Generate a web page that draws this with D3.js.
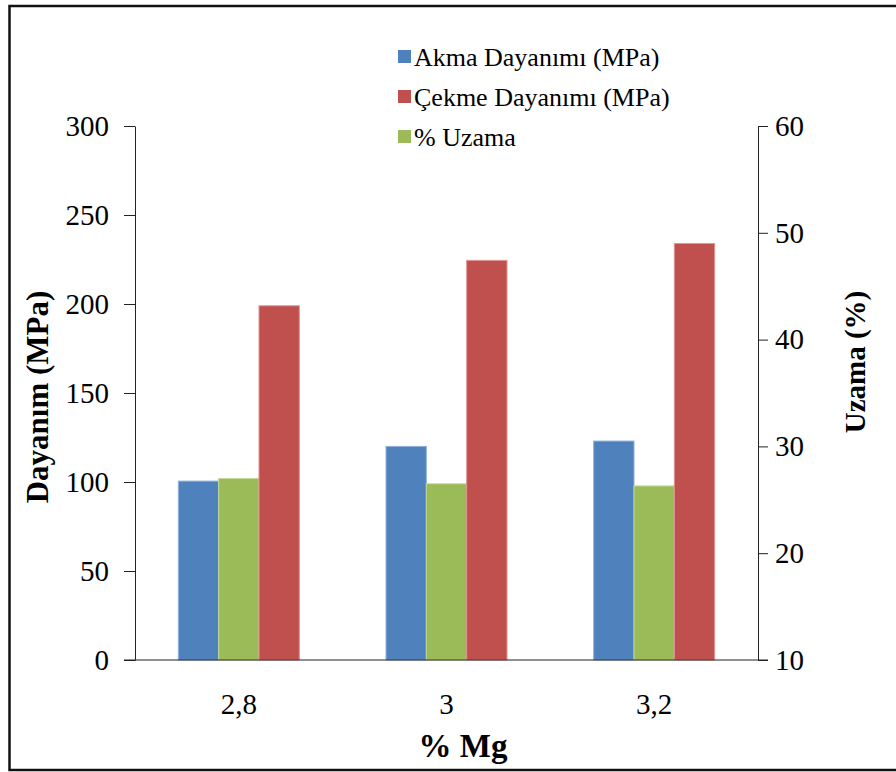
<!DOCTYPE html>
<html>
<head>
<meta charset="utf-8">
<script src="https://cdn.jsdelivr.net/npm/d3@7"></script>
<style>
  html, body { margin: 0; padding: 0; background: #fff; }
  svg { display: block; }
  svg text { font-family: "Liberation Serif", Tinos, "Times New Roman", "DejaVu Serif", serif !important; fill: #000; }
</style>
</head>
<body>
<svg id="chart" width="896" height="772"></svg>
<script>
// Magnesium content categories
const categories = ["2,8", "3", "3,2"];

// Strength values (MPa), left axis
const akmaValues = [100.5, 120, 123];
const cekmeValues = [199, 224.5, 234];

// Elongation values (%), right axis
const uzamaValues = [27.0, 26.5, 26.3];

// Axis tick values
const leftTicks = [0, 50, 100, 150, 200, 250, 300];
const rightTicks = [10, 20, 30, 40, 50, 60];

// Series drawn in each group, left to right
const barSeries = [
  { key: "akma", values: akmaValues, axis: "left", color: "#4F81BD", edge: "#8FB0DA" },
  { key: "uzama", values: uzamaValues, axis: "right", color: "#9BBB59", edge: "#C3D89A" },
  { key: "cekme", values: cekmeValues, axis: "left", color: "#C0504D", edge: "#DD9492" }
];

// Legend entries
const legendLabels = ["Akma Dayanımı (MPa)", "Çekme Dayanımı (MPa)", "% Uzama"];
const legendColors = ["#4F81BD", "#C0504D", "#9BBB59"];

const svg = d3.select("#chart");

// Outer frame
svg.append("rect")
  .attr("x", 9.5).attr("y", 6).attr("width", 900).attr("height", 764)
  .attr("fill", "none").attr("stroke", "#111").attr("stroke-width", 2.5);

const plot = { left: 135, right: 758, top: 126, bottom: 660 };

const x0 = d3.scaleBand().domain(categories).range([plot.left, plot.right]).padding(0);
const groupWidth = 121;
const x1 = d3.scaleBand().domain(barSeries.map(s => s.key)).range([0, groupWidth]).padding(0);
const groupOffset = (x0.bandwidth() - groupWidth) / 2;

const yLeft = d3.scaleLinear().domain([0, 300]).range([plot.bottom, plot.top]);
const yRight = d3.scaleLinear().domain([10, 60]).range([plot.bottom, plot.top]);

// Bars
barSeries.forEach(s => {
  const y = s.axis === "left" ? yLeft : yRight;
  const base = y.domain()[0];
  svg.append("g").selectAll("rect")
    .data(s.values)
    .join("rect")
    .attr("x", (d, i) => x0(categories[i]) + groupOffset + x1(s.key))
    .attr("y", d => y(d))
    .attr("width", x1.bandwidth())
    .attr("height", d => y(base) - y(d))
    .attr("fill", s.color)
    .attr("stroke", s.edge)
    .attr("stroke-width", 1);
});

function styleTicks(g) {
  g.attr("font-family", null);
  g.selectAll(".tick text").style("font-size", "29px").attr("fill", "#111");
  g.select(".domain").attr("stroke", "#222");
  g.selectAll(".tick line").attr("stroke", "#222");
}

// Left axis
svg.append("g")
  .attr("transform", `translate(${plot.left},0)`)
  .call(d3.axisLeft(yLeft).tickValues(leftTicks).tickSize(11).tickSizeOuter(0).tickPadding(15))
  .call(styleTicks);

// Right axis
svg.append("g")
  .attr("transform", `translate(${plot.right},0)`)
  .call(d3.axisRight(yRight).tickValues(rightTicks).tickSize(10).tickSizeOuter(0).tickPadding(7))
  .call(styleTicks);

// Category axis (no tick marks, line spans both outer ticks)
const bottomAxis = svg.append("g")
  .attr("transform", `translate(0,${plot.bottom})`)
  .call(d3.axisBottom(x0).tickSize(0).tickPadding(33))
  .call(styleTicks);
bottomAxis.select(".domain").remove();
svg.append("line")
  .attr("x1", plot.left - 11).attr("x2", plot.right + 10)
  .attr("y1", plot.bottom).attr("y2", plot.bottom)
  .attr("stroke", "#222");

// Axis titles
svg.append("text")
  .attr("transform", "translate(48,397) rotate(-90)")
  .attr("text-anchor", "middle")
  .style("font-size", "31px").style("font-weight", "bold")
  .text("Dayanım (MPa)");

svg.append("text")
  .attr("transform", "translate(865,362) rotate(-90)")
  .attr("text-anchor", "middle")
  .style("font-size", "29px").style("font-weight", "bold")
  .text("Uzama (%)");

svg.append("text")
  .attr("x", 463).attr("y", 757)
  .attr("text-anchor", "middle")
  .style("font-size", "33px").style("font-weight", "bold")
  .text("% Mg");

// Legend
const legend = svg.append("g").attr("transform", "translate(398,50)");
legendLabels.forEach((label, i) => {
  const row = legend.append("g").attr("transform", `translate(0,${i * 40})`);
  row.append("rect")
    .attr("x", 0).attr("y", 0).attr("width", 13).attr("height", 13)
    .attr("fill", legendColors[i]);
  row.append("text")
    .attr("x", 16).attr("y", 16)
    .style("font-size", "26px")
    .text(label);
});
</script>
</body>
</html>
